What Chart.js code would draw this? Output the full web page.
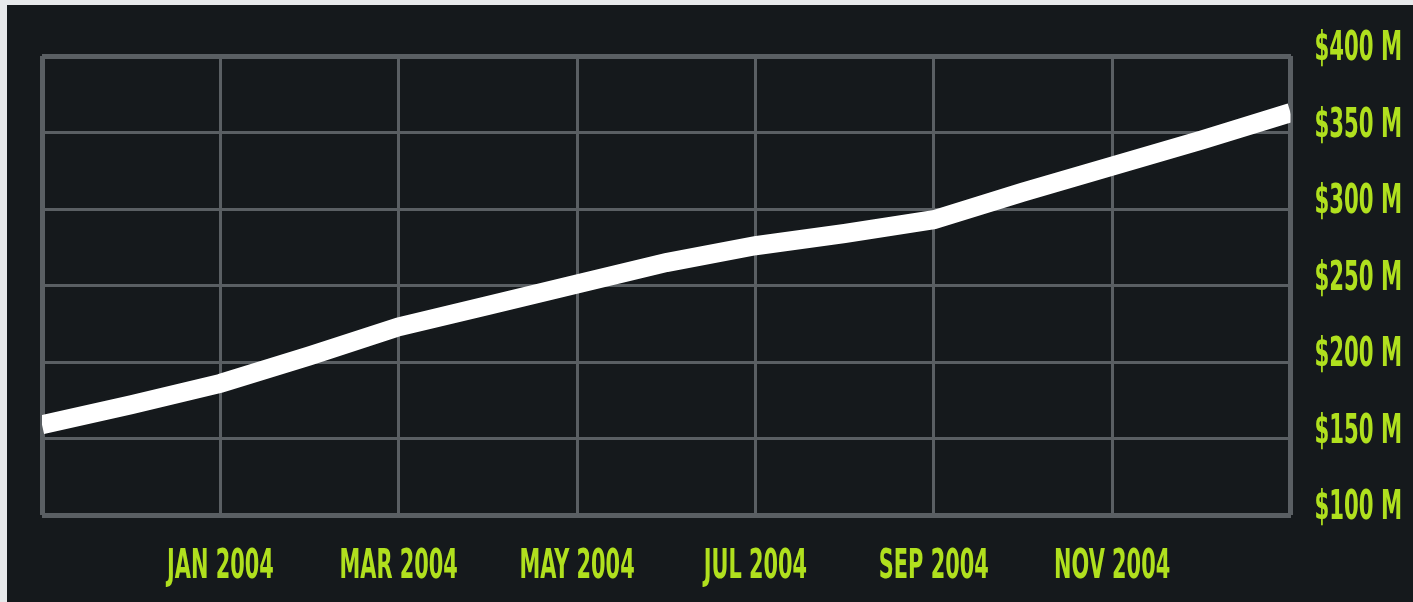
<!DOCTYPE html>
<html>
<head>
<meta charset="utf-8">
<script src="https://cdn.jsdelivr.net/npm/chart.js@4/dist/chart.umd.min.js"></script>
<style>
  html, body { margin: 0; padding: 0; background: #e7e9eb; }
  #panel {
    position: absolute; left: 7px; top: 5px;
    width: 1406px; height: 597px;
    background: #15191c;
  }
</style>
</head>
<body>
<div id="panel"><canvas id="chart"></canvas></div>
<script>
// monthly totals, Nov 2003 .. Jan 2005 (in $M)
const months = ["NOV 2003", "DEC 2003", "JAN 2004", "FEB 2004", "MAR 2004", "APR 2004", "MAY 2004",
    "JUN 2004", "JUL 2004", "AUG 2004", "SEP 2004", "OCT 2004", "NOV 2004", "DEC 2004", "JAN 2005"];
const revenue = [159, 172, 186, 204, 223, 237, 251, 265, 276, 284, 293, 311, 328, 345, 363];

// axis labels
const xTickLabels = ["", "JAN 2004", "MAR 2004", "MAY 2004", "JUL 2004", "SEP 2004", "NOV 2004", ""];
const yTickValues = [100, 150, 200, 250, 300, 350, 400];
const yTickLabels = ["$100 M", "$150 M", "$200 M", "$250 M", "$300 M", "$350 M", "$400 M"];

const labelColor = "#b0e01e";
const gridColor = "#5a5f63";
const labelFont = 'bold 40px "Liberation Sans Narrow", "DejaVu Sans Condensed", sans-serif';

// draw the condensed tick labels ourselves so they can be squeezed horizontally
const condensedTicks = {
    id: "condensedTicks",
    afterDraw(chart) {
        const { ctx, chartArea, scales } = chart;
        ctx.save();
        ctx.fillStyle = labelColor;
        ctx.font = labelFont;
        ctx.textBaseline = "middle";

        scales.y.ticks.forEach((t) => {
            const idx = yTickValues.indexOf(t.value);
            if (idx < 0) return;
            ctx.save();
            ctx.translate(chartArea.right + 24, scales.y.getPixelForValue(t.value) - 6);
            ctx.scale(0.59, 1);
            ctx.textAlign = "left";
            ctx.fillText(yTickLabels[idx], 0, 0);
            ctx.restore();
        });

        scales.x.ticks.forEach((t) => {
            const label = xTickLabels[t.value / 2];
            if (!label) return;
            ctx.save();
            ctx.translate(scales.x.getPixelForValue(t.value), chartArea.bottom + 53);
            ctx.scale(0.58, 1);
            ctx.textAlign = "center";
            ctx.fillText(label, 0, 0);
            ctx.restore();
        });
        ctx.restore();
    },
};

const ctx = document.getElementById("chart").getContext("2d");
new Chart(ctx, {
    type: "line",
    data: {
        datasets: [
            {
                label: "Revenue",
                data: months.map((m, i) => ({ x: i, y: revenue[i] })),
                borderColor: "#ffffff",
                borderWidth: 19,
                borderCapStyle: "butt",
                tension: 0,
                pointRadius: 0,
                fill: false,
            },
        ],
    },
    options: {
        responsive: true,
        maintainAspectRatio: false,
        animation: false,
        layout: { padding: { left: 35, top: 51, right: 0, bottom: 0 } },
        plugins: { legend: { display: false }, tooltip: { enabled: false } },
        scales: {
            x: {
                type: "linear",
                min: 0,
                max: 14,
                ticks: { stepSize: 2, display: false },
                grid: {
                    color: gridColor,
                    lineWidth: (c) => (c.tick && (c.tick.value === 0 || c.tick.value === 14) ? 5 : 3),
                    drawTicks: false,
                },
                border: { display: false },
                afterFit: (scale) => { scale.height = 87; },
            },
            y: {
                position: "right",
                min: 100,
                max: 400,
                ticks: { stepSize: 50, display: false },
                grid: {
                    color: gridColor,
                    lineWidth: (c) => (c.tick && (c.tick.value === 100 || c.tick.value === 400) ? 5 : 3),
                    drawTicks: false,
                },
                border: { display: false },
                afterFit: (scale) => { scale.width = 122.5; },
            },
        },
    },
    plugins: [condensedTicks],
});
</script>
</body>
</html>
